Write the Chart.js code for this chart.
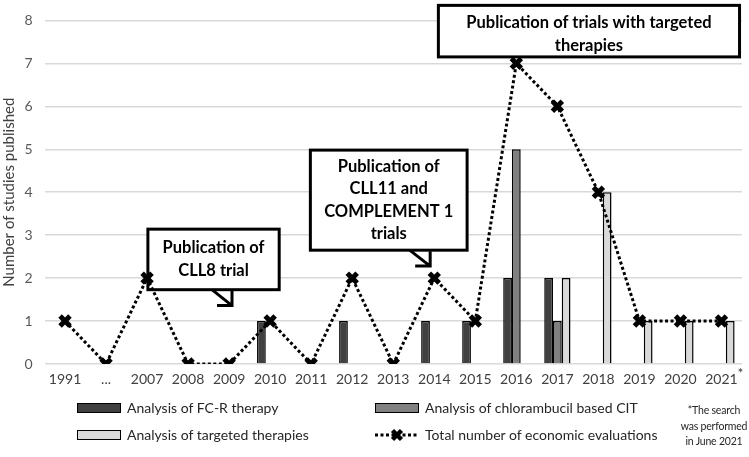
<!DOCTYPE html>
<html>
<head>
<meta charset="utf-8">
<script src="https://cdn.jsdelivr.net/npm/chart.js@4.4.1/dist/chart.umd.min.js"></script>
<style>
    body { margin: 0; background: #fff; }
    #wrap { position: relative; width: 749px; height: 457px; font-family: Lato, "Open Sans", sans-serif; overflow: hidden; }
    #chart { position: absolute; left: 0; top: 0; }
    .legend-item { position: absolute; display: flex; align-items: center; font-size: 14px; color: #262626; white-space: nowrap; }
    .swatch { box-sizing: border-box; width: 44px; height: 10px; border: 1.5px solid #000; margin-right: 6px; }
    .note { position: absolute; font-size: 10.5px; text-align: center; line-height: 15.5px; color: #262626; white-space: nowrap; letter-spacing: -0.2px; }
</style>
</head>
<body>
<div id="wrap">
    <canvas id="chart" width="749" height="457"></canvas>
    <div class="legend-item" style="left:77px; top:399px;"><div class="swatch" style="background:#404040"></div>Analysis of FC-R therapy</div>
    <div class="legend-item" style="left:375px; top:399px;"><div class="swatch" style="background:#808080"></div>Analysis of chlorambucil based CIT</div>
    <div class="legend-item" style="left:77px; top:426px;"><div class="swatch" style="background:#d9d9d9"></div>Analysis of targeted therapies</div>
    <div class="legend-item" style="left:375px; top:426px;">
        <svg width="44" height="14" style="margin-right:6px">
            <line x1="0" y1="7" x2="44" y2="7" stroke="#000" stroke-width="3" stroke-dasharray="3,2.5"/>
            <path d="M17.5 2.5 L26.5 11.5 M26.5 2.5 L17.5 11.5" stroke="#000" stroke-width="4.5"/>
        </svg>Total number of economic evaluations</div>
    <div class="note" style="right:1px; top:403px; width:68px;">*The search<br>was performed<br>in June 2021</div>
</div>
<script>
    const FONT = 'Lato, "Open Sans", sans-serif';

    // --- Data ---
    const years = ['1991', '...', '2007', '2008', '2009', '2010', '2011', '2012', '2013',
        '2014', '2015', '2016', '2017', '2018', '2019', '2020', '2021'];
    const fcrTherapy = [null, null, null, null, null, 1, null, 1, null, 1, 1, 2, 2, null, null, null, null];
    const chlorambucilCit = [null, null, null, null, null, null, null, null, null, null, null, 5, 1, null, null, null, null];
    const targetedTherapies = [null, null, null, null, null, null, null, null, null, null, null, null, 2, 4, 1, 1, 1];
    const totalEvaluations = [1, 0, 2, 0, 0, 1, 0, 2, 0, 2, 1, 7, 6, 4, 1, 1, 1];
    const yTicks = [0, 1, 2, 3, 4, 5, 6, 7, 8];

    // Callout boxes, placed in axis units (category index / y value)
    const callouts = [
        { lines: ['Publication of', 'CLL8 trial'], x0: 2.02, x1: 5.22, y0: 3.14, y1: 1.73,
          tail: { from: 3.58, tip: [4.07, 1.36] } },
        { lines: ['Publication of', 'CLL11 and', 'COMPLEMENT 1', 'trials'], x0: 5.98, x1: 9.8, y0: 4.98, y1: 2.65,
          tail: { from: 8.4, tip: [8.9, 2.28] } },
        { lines: ['Publication of trials with targeted', 'therapies'], x0: 9.1, x1: 16.44, y0: 8.35, y1: 7.15, dy: 3 }
    ];

    const calloutPlugin = {
        id: 'callouts',
        beforeDatasetsDraw(chart) {
            const { ctx, scales: { x, y } } = chart;
            ctx.save();
            ctx.lineWidth = 3;
            ctx.strokeStyle = '#000';
            callouts.forEach(c => {
                const left = x.getPixelForValue(c.x0), right = x.getPixelForValue(c.x1);
                const top = y.getPixelForValue(c.y0), bottom = y.getPixelForValue(c.y1);
                ctx.fillStyle = '#fff';
                ctx.fillRect(left, top, right - left, bottom - top);
                ctx.strokeRect(left, top, right - left, bottom - top);
                if (c.tail) {
                    const sx = x.getPixelForValue(c.tail.from);
                    const tx = x.getPixelForValue(c.tail.tip[0]);
                    const ty = y.getPixelForValue(c.tail.tip[1]);
                    ctx.beginPath();
                    ctx.moveTo(sx, bottom);
                    ctx.lineTo(tx, ty);
                    ctx.moveTo(tx, bottom + 1);
                    ctx.lineTo(tx, ty);
                    ctx.lineTo(tx - 15, ty);
                    ctx.stroke();
                }
                ctx.fillStyle = '#000';
                ctx.font = 'bold 16.5px ' + FONT;
                ctx.textAlign = 'center';
                ctx.textBaseline = 'middle';
                const lh = 22.5;
                const cy = (top + bottom) / 2 + (c.dy || 0);
                const cx = (left + right) / 2;
                c.lines.forEach((t, i) => {
                    ctx.fillText(t, cx, cy + (i - (c.lines.length - 1) / 2) * lh);
                });
            });
            ctx.restore();
        },
        afterDraw(chart) {
            // superscript asterisk on the last year
            const { ctx, scales: { x } } = chart;
            ctx.save();
            ctx.fillStyle = '#404040';
            ctx.font = '14px ' + FONT;
            ctx.textAlign = 'left';
            ctx.fillText('*', x.getPixelForValue(years.length - 1) + 16, 378);
            ctx.restore();
        }
    };

    const ctx = document.getElementById('chart').getContext('2d');
    new Chart(ctx, {
        type: 'bar',
        data: {
            labels: years,
            datasets: [
                {
                    type: 'line',
                    label: 'Total number of economic evaluations',
                    data: totalEvaluations,
                    borderColor: '#000',
                    borderWidth: 3,
                    borderDash: [3, 2.5],
                    pointStyle: 'crossRot',
                    pointRadius: 7,
                    pointBorderWidth: 5,
                    pointBorderColor: '#000',
                    pointBackgroundColor: '#000',
                    tension: 0,
                    order: 0
                },
                {
                    label: 'Analysis of FC-R therapy',
                    data: fcrTherapy,
                    backgroundColor: '#404040',
                    borderColor: '#000',
                    borderWidth: 1.5,
                    order: 1
                },
                {
                    label: 'Analysis of chlorambucil based CIT',
                    data: chlorambucilCit,
                    backgroundColor: '#808080',
                    borderColor: '#000',
                    borderWidth: 1.5,
                    order: 1
                },
                {
                    label: 'Analysis of targeted therapies',
                    data: targetedTherapies,
                    backgroundColor: '#d9d9d9',
                    borderColor: '#000',
                    borderWidth: 1.5,
                    order: 1
                }
            ]
        },
        options: {
            responsive: false,
            animation: false,
            layout: { autoPadding: false, padding: { top: 17, right: 7, left: 0, bottom: 0 } },
            datasets: { bar: { categoryPercentage: 0.64, barPercentage: 1 } },
            plugins: {
                legend: { display: false },
                tooltip: { enabled: false }
            },
            scales: {
                x: {
                    grid: { display: false, drawTicks: false },
                    border: { display: false },
                    ticks: {
                        color: '#404040',
                        font: { family: FONT, size: 14 },
                        padding: 7,
                        maxRotation: 0,
                        autoSkip: false
                    },
                    afterFit(scale) { scale.height = 93; }
                },
                y: {
                    min: 0,
                    max: 8,
                    afterBuildTicks(scale) { scale.ticks = yTicks.map(v => ({ value: v })); },
                    ticks: {
                        color: '#595959',
                        font: { family: FONT, size: 14 },
                        padding: 12
                    },
                    grid: { color: '#d9d9d9', lineWidth: 1.5, drawTicks: false },
                    border: { display: false },
                    title: {
                        display: true,
                        text: 'Number of studies published',
                        color: '#404040',
                        font: { family: FONT, size: 15 },
                        padding: 0
                    },
                    afterFit(scale) { scale.width = 44.5; }
                }
            }
        },
        plugins: [calloutPlugin]
    });
</script>
</body>
</html>
